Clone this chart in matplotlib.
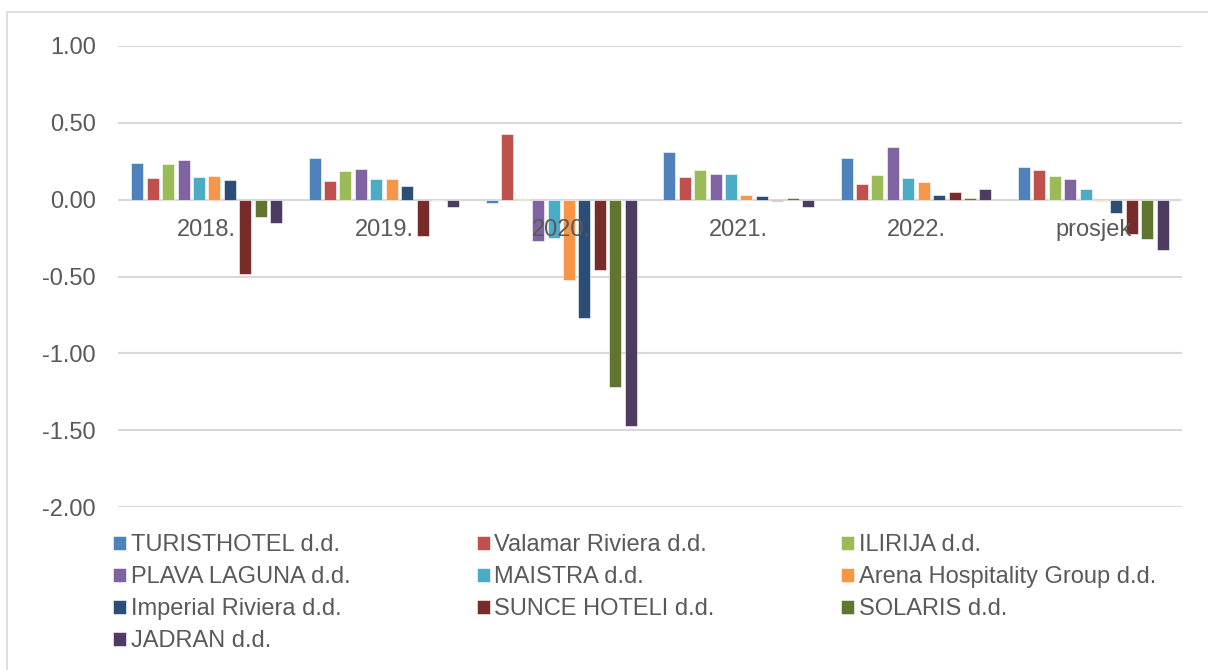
import matplotlib.pyplot as plt
import matplotlib.patches as mpatches
import numpy as np

plt.rcParams['font.family'] = ['Liberation Sans', 'DejaVu Sans']

categories = ['2018.', '2019.', '2020.', '2021.', '2022.', 'prosjek']
companies = ['TURISTHOTEL d.d.', 'Valamar Riviera d.d.', 'ILIRIJA d.d.',
             'PLAVA LAGUNA d.d.', 'MAISTRA d.d.', 'Arena Hospitality Group d.d.',
             'Imperial Riviera d.d.', 'SUNCE HOTELI d.d.', 'SOLARIS d.d.',
             'JADRAN d.d.']
colors = ['#4F81BD', '#C0504D', '#9BBB59', '#8064A2', '#4BACC6',
          '#F79646', '#2C4D75', '#772C2A', '#5F7530', '#4D3B62']

# one list per company, values for 2018..2022 and average
turisthotel = [0.24, 0.27, -0.02, 0.31, 0.27, 0.215]
valamar = [0.14, 0.12, 0.43, 0.15, 0.10, 0.19]
ilirija = [0.23, 0.185, 0.005, 0.19, 0.16, 0.155]
plava_laguna = [0.26, 0.20, -0.27, 0.165, 0.345, 0.135]
maistra = [0.15, 0.135, -0.25, 0.165, 0.14, 0.07]
arena = [0.155, 0.135, -0.52, 0.03, 0.115, -0.01]
imperial = [0.125, 0.09, -0.77, 0.025, 0.03, -0.09]
sunce = [-0.485, -0.235, -0.46, -0.01, 0.05, -0.225]
solaris = [-0.115, 0.0, -1.22, 0.01, 0.01, -0.255]
jadran = [-0.15, -0.045, -1.47, -0.05, 0.07, -0.325]

series = [turisthotel, valamar, ilirija, plava_laguna, maistra, arena,
          imperial, sunce, solaris, jadran]

W, H = 1208, 670
fig = plt.figure(figsize=(W / 100, H / 100), dpi=100)
ax = fig.add_axes([118 / W, 1 - 507 / H, (1182 - 118) / W, (507 - 46) / H])

# outer chart frame (cropped on right and bottom)
fig.patches.append(mpatches.Rectangle((7 / W, -0.1), 1.2, 1 - 12 / H + 0.1,
                                      transform=fig.transFigure, fill=False,
                                      edgecolor='#D9D9D9', linewidth=1.2))

x = np.arange(len(categories))
step = 0.0869
width = 0.0677
for k, (vals, name, c) in enumerate(zip(series, companies, colors)):
    ax.bar(x + (k - 4.5) * step, vals, width=width, color=c, label=name,
           edgecolor='white', linewidth=0.4, zorder=3)

ax.set_xlim(-0.5, len(categories) - 0.5)
ax.set_ylim(-2, 1)
ax.set_yticks(np.arange(-2, 1.01, 0.5))
ax.set_yticklabels([f'{v:.2f}' for v in np.arange(-2, 1.01, 0.5)])
ax.set_xticks([])
ax.tick_params(axis='y', length=0, pad=16, labelsize=17, labelcolor='#595959')
ax.grid(axis='y', color='#D9D9D9', linewidth=1.5, zorder=0)
ax.axhline(0, color='#D9D9D9', linewidth=1.5, zorder=1)
[ax.spines[s].set_visible(False) for s in ['top', 'right', 'bottom', 'left']]

for i, cat in enumerate(categories):
    ax.annotate(cat, (i, 0), xytext=(0, -14), textcoords='offset points',
                ha='center', va='top', fontsize=17, color='#595959', zorder=5)

# legend in Excel row-major order
handles, labels = ax.get_legend_handles_labels()
order = [0, 3, 6, 9, 1, 4, 7, 2, 5, 8]
fig.legend([handles[i] for i in order], [labels[i] for i in order],
           ncol=3, loc='upper left', bbox_to_anchor=(113 / W, 1 - 534 / H),
           frameon=False, fontsize=17, labelcolor='#595959',
           handlelength=0.55, handleheight=0.55, handletextpad=0.2,
           columnspacing=5.35, labelspacing=0.43, borderpad=0, borderaxespad=0)

fig.savefig('out.png', dpi=100)
